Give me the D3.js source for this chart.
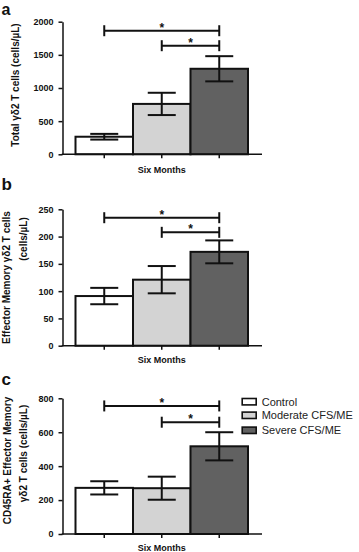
<!DOCTYPE html>
<html><head><meta charset="utf-8">
<script src="https://cdn.jsdelivr.net/npm/d3@7"></script>
<style>
html,body{margin:0;padding:0;background:#fff;}
svg{display:block;font-family:"Liberation Sans",Arial,sans-serif;}
</style></head>
<body><svg id="c" width="359" height="552"></svg>
<script>
const groups = ["Control", "Moderate  CFS/ME", "Severe CFS/ME"];
const groupFills = ["#ffffff", "#d3d3d3", "#616161"];
const xLabel = "Six Months";

const totalMeans = [265, 760, 1290];
const totalErrs = [43, 168, 190];
const totalTicks = [0, 500, 1000, 1500, 2000];
const totalSig = [1864, 1638];

const effMeans = [91, 121, 172];
const effErrs = [15, 25, 21];
const effTicks = [0, 50, 100, 150, 200, 250];
const effSig = [234.6, 207.8];

const cdMeans = [272, 270, 517];
const cdErrs = [39, 68, 83];
const cdTicks = [0, 200, 400, 600, 800];
const cdSig = [755, 659];

const sigPairs = [[0, 2], [1, 2]];

const svg = d3.select("#c");
const x = d3.scaleBand().domain(groups).range([75.5, 248]).padding(0);
const axisX0 = 62.5, axisX1 = 262;
const ink = "#111";

const panels = [
  {letter: "a", letterY: 14.6, letterSize: 16, means: totalMeans, errs: totalErrs, ticks: totalTicks, sig: totalSig,
   y: d3.scaleLinear().domain([0, 2000]).range([154.3, 21.7]), xlabY: 172.5,
   titles: [{t: "Total \u03b3\u03b42 T cells  (cells/\u00b5L)", bx: 18.5, cy: 85}]},
  {letter: "b", letterY: 190, letterSize: 17, means: effMeans, errs: effErrs, ticks: effTicks, sig: effSig,
   y: d3.scaleLinear().domain([0, 250]).range([345.7, 209.3]), xlabY: 363,
   titles: [{t: "Effector  Memory \u03b3\u03b42 T cells", bx: 10, cy: 277.5},
            {t: "(cells/\u00b5L)", bx: 26.5, cy: 239}]},
  {letter: "c", letterY: 385, letterSize: 17, means: cdMeans, errs: cdErrs, ticks: cdTicks, sig: cdSig,
   y: d3.scaleLinear().domain([0, 800]).range([534, 398.3]), xlabY: 551,
   titles: [{t: "CD45RA+ Effector  Memory", bx: 11.3, cy: 460.5},
            {t: "\u03b3\u03b42 T cells  (cells/\u00b5L)", bx: 26.5, cy: 453.5}]}
];

panels.forEach(p => {
  const g = svg.append("g");
  const y = p.y;
  const y0 = y(0);

  g.append("text").attr("x", 1.5).attr("y", p.letterY)
    .attr("font-size", p.letterSize).attr("font-weight", "bold").attr("fill", ink).text(p.letter);

  p.titles.forEach(tt => {
    g.append("text")
      .attr("transform", `translate(${tt.bx},${tt.cy}) rotate(-90)`)
      .attr("text-anchor", "middle").attr("font-size", 10).attr("font-weight", "bold")
      .attr("fill", ink).text(tt.t);
  });

  // bars
  g.selectAll("rect.bar").data(p.means).join("rect")
    .attr("x", (d, i) => x(groups[i]))
    .attr("y", d => y(d))
    .attr("width", x.bandwidth())
    .attr("height", d => y0 - y(d))
    .attr("fill", (d, i) => groupFills[i])
    .attr("stroke", ink).attr("stroke-width", 2);

  // error bars
  const capW = 14;
  p.means.forEach((m, i) => {
    const cx = x(groups[i]) + x.bandwidth() / 2;
    const hi = y(m + p.errs[i]), lo = y(m - p.errs[i]);
    g.append("line").attr("x1", cx).attr("x2", cx).attr("y1", hi).attr("y2", lo)
      .attr("stroke", ink).attr("stroke-width", 2);
    [hi, lo].forEach(yy => g.append("line").attr("x1", cx - capW).attr("x2", cx + capW)
      .attr("y1", yy).attr("y2", yy).attr("stroke", ink).attr("stroke-width", 2));
  });

  // y axis
  const ya = g.append("g").attr("transform", `translate(${axisX0},0)`)
    .call(d3.axisLeft(y).tickValues(p.ticks).tickFormat(d3.format("d"))
      .tickSize(4).tickSizeOuter(0).tickPadding(5));
  ya.select(".domain").attr("stroke", ink).attr("stroke-width", 1.5);
  ya.selectAll(".tick line").attr("stroke", ink).attr("stroke-width", 1.5);
  ya.selectAll(".tick text").attr("font-size", 9).attr("font-weight", "bold")
    .attr("fill", ink).attr("font-family", "Liberation Sans, Arial, sans-serif");

  // x axis
  g.append("line").attr("x1", axisX0 - 0.75).attr("x2", axisX1).attr("y1", y0).attr("y2", y0)
    .attr("stroke", ink).attr("stroke-width", 1.5);
  const xa = g.append("g").attr("transform", `translate(0,${y0})`)
    .call(d3.axisBottom(x).tickSize(4).tickFormat(""));
  xa.select(".domain").remove();
  xa.selectAll(".tick line").attr("stroke", ink).attr("stroke-width", 1.5);
  g.append("text").attr("x", x(groups[1]) + x.bandwidth() / 2).attr("y", p.xlabY)
    .attr("text-anchor", "middle").attr("font-size", 9).attr("font-weight", "bold")
    .attr("fill", ink).text(xLabel);

  // significance brackets
  sigPairs.forEach((pr, k) => {
    const xa1 = x(groups[pr[0]]) + x.bandwidth() / 2;
    const xa2 = x(groups[pr[1]]) + x.bandwidth() / 2;
    const yy = y(p.sig[k]);
    g.append("line").attr("x1", xa1).attr("x2", xa2).attr("y1", yy).attr("y2", yy)
      .attr("stroke", ink).attr("stroke-width", 2);
    [xa1, xa2].forEach(xx => g.append("line").attr("x1", xx).attr("x2", xx)
      .attr("y1", yy - 5.5).attr("y2", yy + 5.5).attr("stroke", ink).attr("stroke-width", 2));
    g.append("text").attr("x", (xa1 + xa2) / 2).attr("y", yy + 1)
      .attr("text-anchor", "middle").attr("font-size", 12).attr("font-weight", "bold")
      .attr("fill", ink).text("*");
  });
});

// legend
const leg = svg.append("g");
const legRows = [401.7, 415.3, 430.3];
groups.forEach((gname, i) => {
  leg.append("rect").attr("x", 242.2).attr("y", legRows[i] - 3.2).attr("width", 14).attr("height", 6.4)
    .attr("fill", groupFills[i]).attr("stroke", ink).attr("stroke-width", 1.6);
  leg.append("text").attr("x", 261.7).attr("y", legRows[i] + 4)
    .attr("font-size", 11).attr("fill", "#222").text(gname);
});
</script></body></html>
